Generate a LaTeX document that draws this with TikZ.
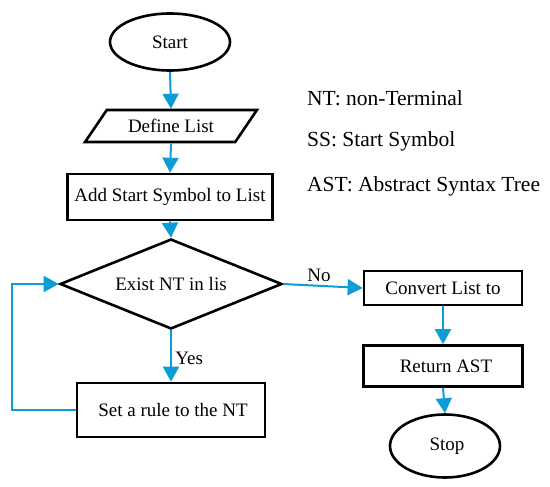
\documentclass[tikz,border=0pt]{standalone}
\usepackage{fontspec}
\setmainfont{Liberation Serif}
\usetikzlibrary{shapes.geometric,arrows.meta}
\begin{document}
\begin{tikzpicture}[x=1pt,y=-1pt,
  every node/.style={font=\fontsize{19}{22}\selectfont},
  box/.style={draw=black,line width=2.6pt,rectangle,inner sep=0pt},
  term/.style={draw=black,line width=2.6pt,ellipse,inner sep=0pt},
  flow/.style={color1,line width=2pt,-{Triangle[length=15pt,width=16pt]}},
  lab/.style={text=black},
  legend/.style={anchor=west,inner sep=0pt,font=\fontsize{21.5}{24}\selectfont}]
\definecolor{color1}{HTML}{0C9DD6}
\useasboundingbox (0,0) rectangle (550,487);
\node[term,minimum width=120,minimum height=57] (start) at (170,42) {Start};
\node[draw=black,line width=2.6pt,trapezium,trapezium left angle=43,trapezium right angle=137,
  trapezium stretches=true,minimum width=172,minimum height=32,inner sep=0pt] (define) at (171,126) {\raisebox{-7pt}{Define List}};
\node[box,minimum width=205,minimum height=46] (add) at (170,197) {Add Start Symbol to List};
\node[draw=black,line width=2.6pt,diamond,aspect=2.4,minimum width=222,minimum height=90,inner sep=0pt] (exist) at (171,284) {Exist NT in lis};
\node[box,minimum width=188,minimum height=54] (rule) at (171,410) {\hspace{4pt}Set a rule to the NT};
\node[box,minimum width=158,minimum height=34] (convert) at (443,288) {\raisebox{-7pt}{Convert List to}};
\node[box,minimum width=159,minimum height=41] (return) at (443,366) {\hspace{6pt}\raisebox{-3pt}{Return AST}};
\node[term,minimum width=110,minimum height=63] (stop) at (445,446) {\hspace{4pt}Stop};
% legend
\node[legend] (nt) at (307,98) {NT: non-Terminal};
\node[legend] (ss) at (307,141) {SS: Start Symbol};
\node[legend] (ast) at (307,186) {AST: Abstract Syntax Tree};
% connectors
\draw[flow] (start.south) -- (define.north);
\draw[flow] (define.south) -- (add.north);
\draw[flow] (add.south) -- (exist.north);
\draw[flow] (exist.south) -- node[lab,right,pos=0.55] {Yes} (rule.north);
\draw[flow] (rule.west) -- ++(-64,0) |- (exist.west);
\draw[flow] (exist.east) -- node[lab,above,pos=0.45] {No} (convert.west);
\draw[flow] (convert.south) -- (return.north);
\draw[flow] (return.south) -- (stop.north);
\end{tikzpicture}
\end{document}
